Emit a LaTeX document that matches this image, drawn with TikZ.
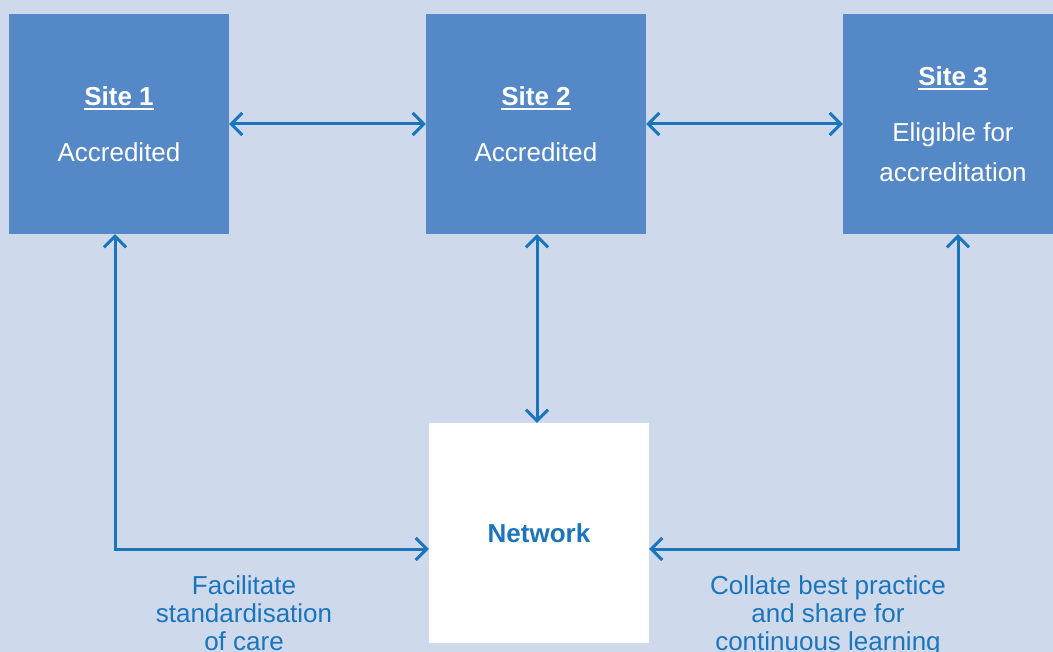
\documentclass[tikz,border=0pt]{standalone}
\usepackage{fontspec}
\setmainfont{Liberation Sans}
\usetikzlibrary{arrows.meta}
\definecolor{bgc}{HTML}{CED9EC}
\definecolor{boxc}{HTML}{5588C7}
\definecolor{arrc}{HTML}{1A75BC}
\newcommand\siteul[1]{\leavevmode\vtop{\hbox{#1}\kern2pt\hrule height 2pt}}
\tikzset{
  sitebox/.style={fill=boxc, minimum width=220pt, minimum height=220pt, inner sep=0pt, text=white, align=center, font=\fontsize{26}{40}\selectfont},
  netbox/.style={fill=white, minimum width=220pt, minimum height=220pt, inner sep=0pt, text=arrc, font=\fontsize{26}{40}\selectfont\bfseries},
  conn/.style={draw=arrc, line width=3pt, {Straight Barb[length=11pt,width=22pt,line width=3pt]}-{Straight Barb[length=11pt,width=22pt,line width=3pt]}},
  conn1/.style={draw=arrc, line width=3pt, -{Straight Barb[length=11pt,width=22pt,line width=3pt]}},
  lbl/.style={text=arrc, align=center, inner sep=0pt, anchor=north, font=\fontsize{26}{28}\selectfont}
}
\begin{document}
\begin{tikzpicture}[x=1pt,y=-1pt]
\clip (0,0) rectangle (1053,652);
\fill[bgc] (0,0) rectangle (1053,652);
\node[sitebox] (s1) at (119,124) {\siteul{\textbf{Site 1}}\\[16pt]Accredited};
\node[sitebox] (s2) at (536,124) {\siteul{\textbf{Site 2}}\\[16pt]Accredited};
\node[sitebox] (s3) at (953,124) {\siteul{\textbf{Site 3}}\\[16pt]Eligible for\\accreditation};
\node[netbox] (net) at (539,533) {Network};
\coordinate (c1) at (115,549);
\coordinate (c3) at (958,549);
\draw[conn] (s1.east) -- (s2.west);
\draw[conn] (s2.east) -- (s3.west);
\draw[conn] (s2.south -| 537,0) -- (net.north -| 537,0);
\draw[conn] (s1.south -| c1) -- (c1) -- (c1 -| net.west);
\draw[conn] (s3.south -| c3) -- (c3) -- (c3 -| net.east);
\node[lbl] (l1) at (244,575) {Facilitate\\standardisation\\of care};
\node[lbl] (l2) at (828,575) {Collate best practice\\and share for\\continuous learning};
\end{tikzpicture}
\end{document}
